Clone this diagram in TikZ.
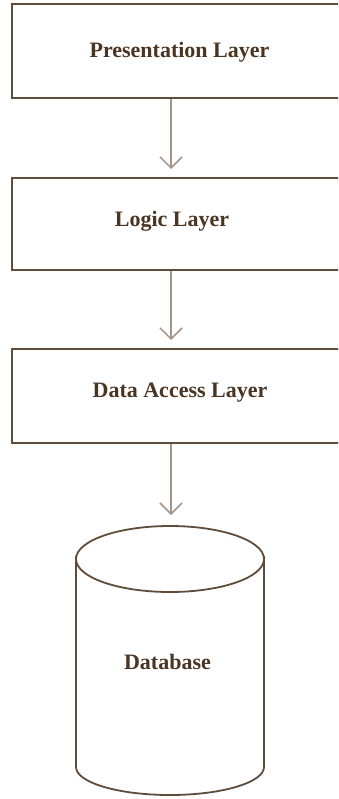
\documentclass[tikz,border=0pt]{standalone}
\usepackage{fontspec}
\setmainfont{Liberation Serif}
\usetikzlibrary{arrows.meta}
\definecolor{boxcol}{HTML}{5E4C3C}
\definecolor{arrcol}{HTML}{A49488}
\definecolor{txtcol}{HTML}{4A3522}
\tikzset{
  layerbox/.style={draw=boxcol, line width=2pt, rectangle, minimum width=333pt, inner sep=0pt},
  lbl/.style={text=txtcol, font=\fontsize{22}{26}\selectfont\bfseries, inner sep=0pt, anchor=center},
  arr/.style={draw=arrcol, line width=1.5pt, -{Straight Barb[length=11pt,width=22pt,line width=1.5pt]}, shorten >=8pt},
  cyl/.style={draw=boxcol, line width=1.8pt}
}
\begin{document}
\begin{tikzpicture}[x=1pt,y=-1pt]
\useasboundingbox (0,0) rectangle (338,799);
\clip (0,0) rectangle (338,799);
\fill[white] (0,0) rectangle (338,799);
% boxes
\node[layerbox, minimum height=94pt] (p) at (178.5,51) {};
\node[layerbox, minimum height=92pt] (l) at (178.5,224) {};
\node[layerbox, minimum height=94pt] (d) at (178.5,396) {};
% labels
\node[lbl] (pt) at (179.5,52) {Presentation Layer};
\node[lbl] (lt) at (172,221.5) {Logic Layer};
\node[lbl] (dt) at (180,392.5) {Data Access Layer};
% cylinder
\coordinate (dbtop) at (171,526);
\draw[cyl] (170,559) ellipse [x radius=94, y radius=33];
\draw[cyl] (76,556) -- (76,767) arc[start angle=180, end angle=0, x radius=94, y radius=28] -- (264,556);
\node[lbl] (dbt) at (167.5,662) {Database};
% arrows
\draw[arr] ([xshift=-7.5pt]p.south) -- ([xshift=-7.5pt]l.north);
\draw[arr] ([xshift=-7.5pt]l.south) -- ([xshift=-7.5pt]d.north);
\draw[arr, shorten >=11pt] ([xshift=-7.5pt]d.south) -- (dbtop);
\end{tikzpicture}
\end{document}
